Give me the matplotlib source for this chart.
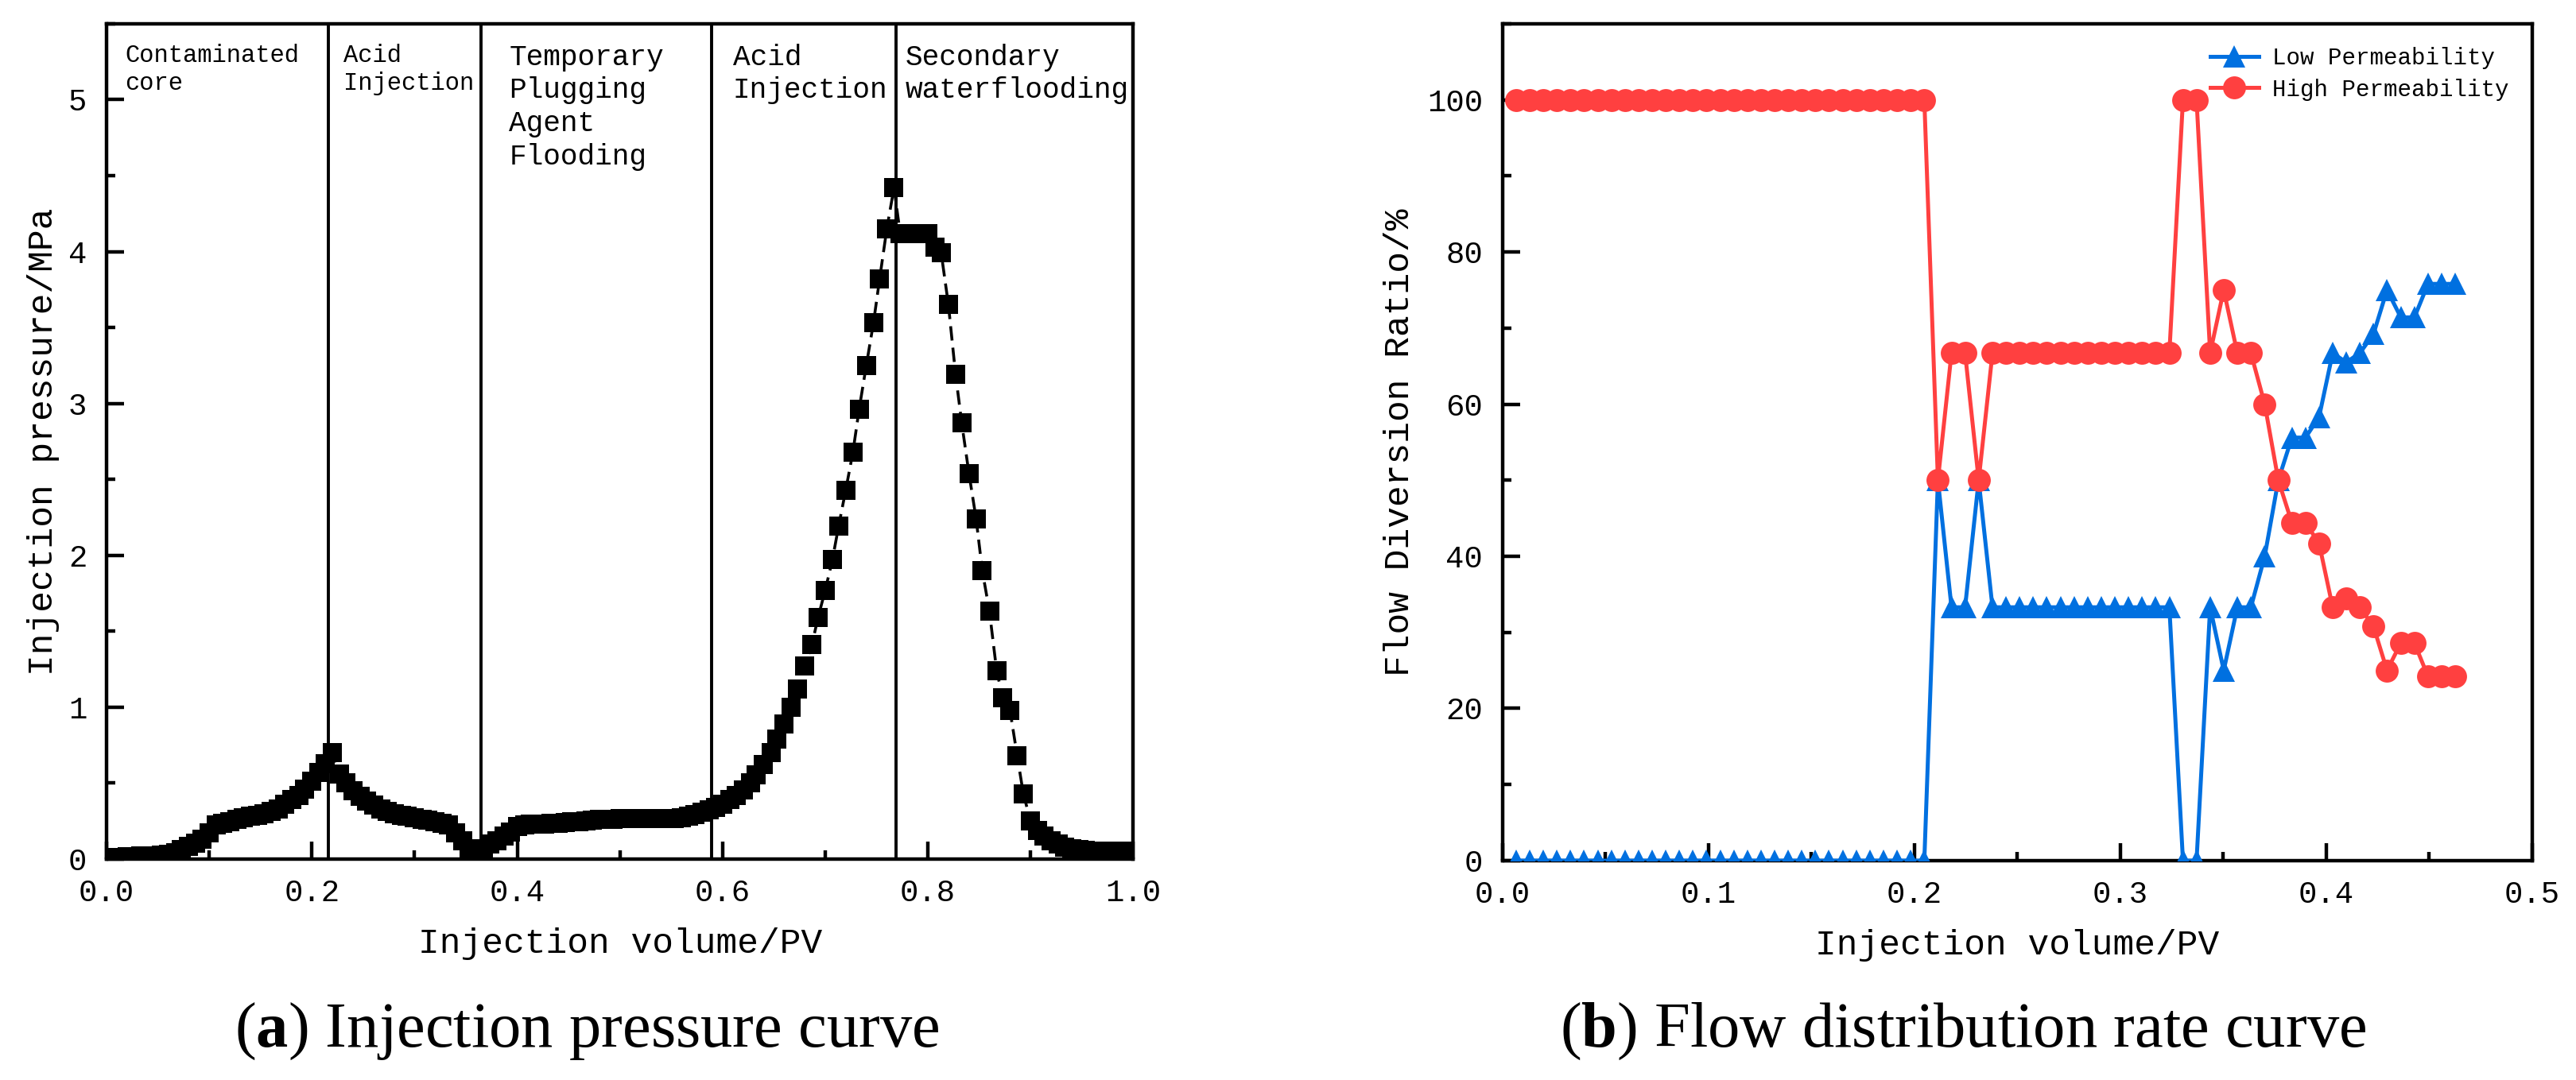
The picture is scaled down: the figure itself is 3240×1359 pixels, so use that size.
import matplotlib
matplotlib.use('Agg')
import matplotlib.pyplot as plt
from matplotlib.ticker import MultipleLocator, FormatStrFormatter

MONO = 'Liberation Mono'
SERIF = 'Liberation Serif'

plt.rcParams['mathtext.fontset'] = 'custom'
plt.rcParams['mathtext.rm'] = SERIF
plt.rcParams['mathtext.bf'] = SERIF + ':bold'

# (a) injection pressure
pv_a = [
    0.000, 0.007, 0.013, 0.020, 0.027, 0.033, 0.040, 0.047, 0.053, 0.060, 0.067, 0.073, 0.080, 0.087, 0.093,
    0.100, 0.107, 0.113, 0.120, 0.127, 0.133, 0.140, 0.147, 0.153, 0.160, 0.167, 0.173, 0.180, 0.187, 0.193,
    0.200, 0.207, 0.213, 0.220, 0.227, 0.233, 0.240, 0.247, 0.253, 0.260, 0.267, 0.273, 0.280, 0.287, 0.293,
    0.300, 0.307, 0.313, 0.320, 0.327, 0.333, 0.340, 0.347, 0.353, 0.360, 0.367, 0.373, 0.380, 0.387, 0.393,
    0.400, 0.407, 0.413, 0.420, 0.427, 0.433, 0.440, 0.447, 0.453, 0.460, 0.467, 0.473, 0.480, 0.487, 0.493,
    0.500, 0.507, 0.513, 0.520, 0.527, 0.533, 0.540, 0.547, 0.553, 0.560, 0.567, 0.573, 0.580, 0.587, 0.593,
    0.600, 0.607, 0.613, 0.620, 0.627, 0.633, 0.640, 0.647, 0.653, 0.660, 0.667, 0.673, 0.680, 0.687, 0.693,
    0.700, 0.707, 0.713, 0.720, 0.727, 0.733, 0.740, 0.747, 0.753, 0.760, 0.767, 0.773, 0.780, 0.787, 0.793,
    0.800, 0.807, 0.813, 0.820, 0.827, 0.833, 0.840, 0.847, 0.853, 0.860, 0.867, 0.873, 0.880, 0.887, 0.893,
    0.900, 0.907, 0.913, 0.920, 0.927, 0.933, 0.940, 0.947, 0.953, 0.960, 0.967, 0.973, 0.980, 0.987, 0.993,
    1.000,
]
pressure = [
    0.01, 0.01, 0.01, 0.015, 0.015, 0.02, 0.02, 0.02, 0.025, 0.03, 0.04, 0.065, 0.085, 0.105, 0.13,
    0.17, 0.225, 0.235, 0.245, 0.26, 0.27, 0.28, 0.29, 0.30, 0.315, 0.33, 0.36, 0.39, 0.42, 0.46,
    0.51, 0.57, 0.63, 0.70, 0.56, 0.50, 0.45, 0.415, 0.38, 0.355, 0.33, 0.315, 0.30, 0.29, 0.28,
    0.27, 0.26, 0.255, 0.245, 0.235, 0.225, 0.17, 0.12, 0.07, 0.05, 0.07, 0.10, 0.12, 0.15, 0.18,
    0.215, 0.225, 0.228, 0.23, 0.23, 0.235, 0.237, 0.24, 0.245, 0.248, 0.25, 0.255, 0.26, 0.262, 0.263,
    0.264, 0.265, 0.265, 0.265, 0.265, 0.265, 0.265, 0.266, 0.268, 0.27, 0.28, 0.295, 0.31, 0.325, 0.34,
    0.36, 0.39, 0.42, 0.455, 0.50, 0.555, 0.62, 0.70, 0.79, 0.89, 1.00, 1.12, 1.27, 1.41, 1.59,
    1.77, 1.97, 2.19, 2.43, 2.68, 2.96, 3.25, 3.53, 3.82, 4.15, 4.42, 4.12, 4.12, 4.12, 4.12,
    4.12, 4.03, 3.99, 3.65, 3.19, 2.87, 2.54, 2.24, 1.90, 1.63, 1.24, 1.06, 0.98, 0.68, 0.43,
    0.25, 0.19, 0.15, 0.12, 0.10, 0.08, 0.07, 0.06, 0.055, 0.05, 0.05, 0.05, 0.05, 0.05, 0.05,
    0.05,
]

stage_bounds = [0.216, 0.365, 0.589, 0.769]
stage_labels = ['Contaminated\ncore', 'Acid\nInjection', 'Temporary\nPlugging\nAgent\nFlooding',
                'Acid\nInjection', 'Secondary\nwaterflooding']
stage_x = [0.018, 0.231, 0.392, 0.610, 0.778]
stage_size = [11, 11, 13, 13, 13]

# (b) flow diversion ratio, %
pv_b = [
    0.0065, 0.0131, 0.0197, 0.0263, 0.0329, 0.0396, 0.0462, 0.0528, 0.0594, 0.0660,
    0.0726, 0.0792, 0.0858, 0.0924, 0.0990, 0.1057, 0.1123, 0.1189, 0.1255, 0.1321,
    0.1387, 0.1453, 0.1519, 0.1585, 0.1651, 0.1718, 0.1784, 0.1850, 0.1916, 0.1982,
    0.2048, 0.2114, 0.2180, 0.2246, 0.2312, 0.2379, 0.2445, 0.2511, 0.2577, 0.2643,
    0.2709, 0.2775, 0.2841, 0.2907, 0.2973, 0.3040, 0.3106, 0.3172, 0.3238, 0.3304,
    0.3370, 0.3436, 0.3502, 0.3568, 0.3634, 0.3701, 0.3767, 0.3833, 0.3899, 0.3965,
    0.4031, 0.4097, 0.4163, 0.4229, 0.4295, 0.4362, 0.4428, 0.4494, 0.4560, 0.4626,
]
low_perm = [
    0, 0, 0, 0, 0, 0, 0, 0, 0, 0,
    0, 0, 0, 0, 0, 0, 0, 0, 0, 0,
    0, 0, 0, 0, 0, 0, 0, 0, 0, 0,
    0, 50, 33.3, 33.3, 50, 33.3, 33.3, 33.3, 33.3, 33.3,
    33.3, 33.3, 33.3, 33.3, 33.3, 33.3, 33.3, 33.3, 33.3, 0,
    0, 33.3, 25, 33.3, 33.3, 40, 50, 55.6, 55.6, 58.3,
    66.7, 65.5, 66.7, 69.2, 75, 71.4, 71.4, 75.8, 75.8, 75.8,
]
high_perm = [
    100, 100, 100, 100, 100, 100, 100, 100, 100, 100,
    100, 100, 100, 100, 100, 100, 100, 100, 100, 100,
    100, 100, 100, 100, 100, 100, 100, 100, 100, 100,
    100, 50, 66.7, 66.7, 50, 66.7, 66.7, 66.7, 66.7, 66.7,
    66.7, 66.7, 66.7, 66.7, 66.7, 66.7, 66.7, 66.7, 66.7, 100,
    100, 66.7, 75, 66.7, 66.7, 60, 50, 44.4, 44.4, 41.7,
    33.3, 34.5, 33.3, 30.8, 25, 28.6, 28.6, 24.2, 24.2, 24.2,
]

RED = '#ff4040'
BLUE = '#0070e0'


def style_axes(ax):
    for side in ['left', 'right', 'top', 'bottom']:
        ax.spines[side].set_linewidth(1.6)
    ax.tick_params(which='both', direction='in', width=1.6, top=False, right=False)
    ax.tick_params(which='major', length=8, pad=9, labelsize=14)
    ax.tick_params(which='minor', length=4)
    ax.xaxis.set_major_formatter(FormatStrFormatter('%.1f'))
    for lab in ax.get_xticklabels() + ax.get_yticklabels():
        lab.set_family(MONO)


fig = plt.figure(figsize=(16.2, 6.795), dpi=200)

# --- (a) ---
ax1 = fig.add_axes([0.0414, 0.2046, 0.3985, 0.7734])
ax1.plot(pv_a, pressure, color='black', lw=1.3, ls=(0, (5, 2.5)),
         marker='s', markersize=8.8, markeredgewidth=0, zorder=3)
for xb in stage_bounds:
    ax1.axvline(xb, color='black', lw=1.4, zorder=2)
for xs, lab, fs in zip(stage_x, stage_labels, stage_size):
    ax1.text(xs, 5.37, lab, family=MONO, fontsize=fs, va='top', ha='left', linespacing=1.25)
ax1.xaxis.set_major_locator(MultipleLocator(0.2))
ax1.xaxis.set_minor_locator(MultipleLocator(0.1))
ax1.yaxis.set_major_locator(MultipleLocator(1))
ax1.yaxis.set_minor_locator(MultipleLocator(0.5))
ax1.set_xlim(0, 1.0)
ax1.set_ylim(0, 5.5)
style_axes(ax1)
ax1.set_xlabel('Injection volume/PV', family=MONO, fontsize=16, labelpad=9)
ax1.set_ylabel('Injection pressure/MPa', family=MONO, fontsize=16, labelpad=4)

# --- (b) ---
ax2 = fig.add_axes([0.5833, 0.2031, 0.3997, 0.775])
ax2.plot(pv_b, low_perm, color=BLUE, lw=1.8, marker='^', markersize=10.4,
         markeredgewidth=0, label='Low Permeability', zorder=3)
ax2.plot(pv_b, high_perm, color=RED, lw=1.8, marker='o', markersize=10.4,
         markeredgewidth=0, label='High Permeability', zorder=4)
ax2.xaxis.set_major_locator(MultipleLocator(0.1))
ax2.xaxis.set_minor_locator(MultipleLocator(0.05))
ax2.yaxis.set_major_locator(MultipleLocator(20))
ax2.yaxis.set_minor_locator(MultipleLocator(10))
ax2.set_xlim(0, 0.5)
ax2.set_ylim(0, 110)
style_axes(ax2)
ax2.set_xlabel('Injection volume/PV', family=MONO, fontsize=16, labelpad=9)
ax2.set_ylabel('Flow Diversion Ratio/%', family=MONO, fontsize=16, labelpad=5)
ax2.legend(loc='upper right', frameon=False, prop={'family': MONO, 'size': 10.5},
           handlelength=2.1, handletextpad=0.6, borderaxespad=0.6, borderpad=0.4,
           labelspacing=0.4)

fig.text(0.228, 0.031, r'($\mathbf{a}$) Injection pressure curve', family=SERIF,
         fontsize=29, ha='center', va='baseline')
fig.text(0.762, 0.031, r'($\mathbf{b}$) Flow distribution rate curve', family=SERIF,
         fontsize=29, ha='center', va='baseline')

fig.savefig('out.png', dpi=200)
